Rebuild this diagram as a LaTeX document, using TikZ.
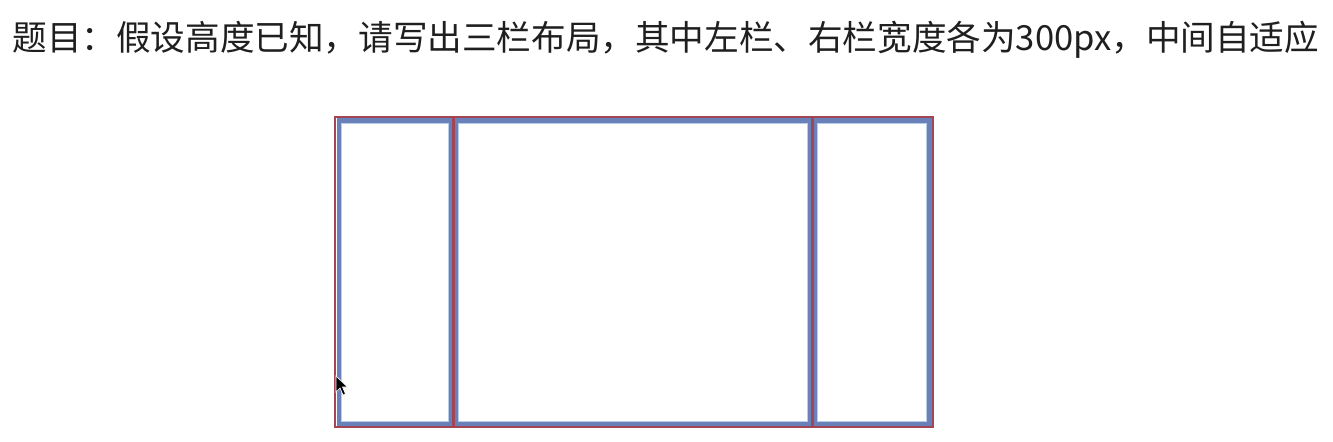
\documentclass[tikz,border=0pt]{standalone}
\usepackage{fontspec}
\newfontfamily\cjk{Noto Sans CJK SC}
\definecolor{boxblue}{HTML}{6A80B8}
\definecolor{boxred}{HTML}{A24656}
\definecolor{innerblue}{HTML}{B8CDEB}
\tikzset{
  colbox/.style={draw=boxblue, line width=2.4pt},
  colinner/.style={draw=innerblue, line width=0.5pt},
  redline/.style={draw=boxred, line width=1.6pt},
  title/.style={font=\cjk\fontsize{17.3pt}{20pt}\selectfont, text=black!88, inner sep=0pt, anchor=west}
}
\begin{document}
\begin{tikzpicture}[x=0.5pt,y=-0.5pt]
\useasboundingbox[fill=white] (0,0) rectangle (1333,441);
\node[title] (t) at (12,40) {题目：假设高度已知，请写出三栏布局，其中左栏、右栏宽度各为300px，中间自适应};
% columns
\draw[colbox] (339,120.5) rectangle (451,424);
\draw[colbox] (455.5,120.5) rectangle (810.5,424);
\draw[colbox] (815,120.5) rectangle (929.5,424);
\draw[colinner] (341.8,123.3) rectangle (448.2,421.2);
\draw[colinner] (458.3,123.3) rectangle (807.7,421.2);
\draw[colinner] (817.8,123.3) rectangle (926.7,421.2);
% red container and separators
\draw[redline,line width=1.1pt] (335,117) rectangle (933,427);
\draw[redline] (453.2,117) -- (453.2,427);
\draw[redline] (812.8,117) -- (812.8,427);
% mouse cursor
\filldraw[fill=black, draw=white, line width=0.3pt] (336,376) -- (336,392) -- (340,388) -- (343,395) -- (345.5,394) -- (342.5,387) -- (347.5,387) -- cycle;
\end{tikzpicture}
\end{document}
